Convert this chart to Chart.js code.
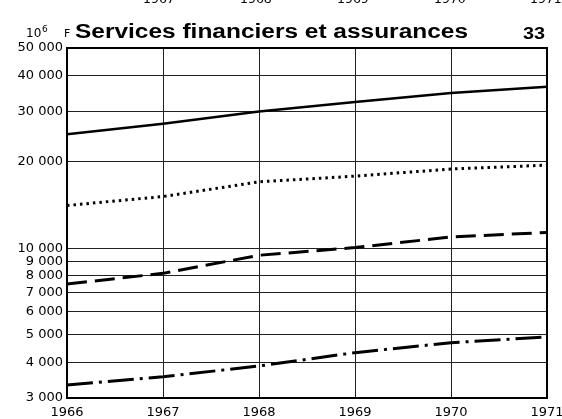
<!DOCTYPE html>
<html>
<head>
<meta charset="utf-8">
<script src="https://cdn.jsdelivr.net/npm/chart.js@4.4.0/dist/chart.umd.min.js"></script>
<style>
  html, body { margin: 0; padding: 0; background: #fff; }
  #wrap { position: relative; width: 562px; height: 419px; }
</style>
</head>
<body>
<div id="wrap"><canvas id="c" width="562" height="419"></canvas></div>
<script>
// ---- data ----
const years = [1966, 1967, 1968, 1969, 1970, 1971];
const seriesSolid   = [25000, 27200, 30000, 32400, 34800, 36600];
const seriesDotted  = [14100, 15150, 17050, 17850, 18900, 19500];
const seriesDashed  = [7500, 8170, 9450, 10050, 10950, 11350];
const seriesDashDot = [3330, 3560, 3880, 4320, 4680, 4900];
const yTickValues = [3000, 4000, 5000, 6000, 7000, 8000, 9000, 10000, 20000, 30000, 40000, 50000];
const yTickLabels = ['3 000', '4 000', '5 000', '6 000', '7 000', '8 000', '9 000', '10 000', '20 000', '30 000', '40 000', '50 000'];
const xTickLabels = ['1966', '1967', '1968', '1969', '1970', '1971'];
const titleText = 'Services financiers et assurances';
const unitText = ['10', '6', 'F'];
const pageNumber = '33';

function pts(vals) { return years.map((y, i) => ({ x: y, y: vals[i] })); }

const tickFont = { family: 'DejaVu Sans', size: 13 };

const decorPlugin = {
  id: 'decor',
  beforeDatasetsDraw(chart) {
    const { ctx, chartArea: a } = chart;
    ctx.save();
    ctx.strokeStyle = '#000';
    ctx.lineWidth = 2;
    ctx.strokeRect(a.left, a.top, a.right - a.left, a.bottom - a.top);
    ctx.restore();
  },
  afterDraw(chart) {
    const ctx = chart.ctx;
    ctx.save();
    ctx.fillStyle = '#000';
    ctx.textBaseline = 'alphabetic';
    ctx.textAlign = 'left';
    // cut-off labels of previous chart at top edge
    ctx.font = '12.5px "DejaVu Sans"';
    const prevX = [143, 240, 337, 434, 530];
    ['1967', '1968', '1969', '1970', '1971'].forEach((t, i) => ctx.fillText(t, prevX[i], 3));
    // unit
    ctx.font = '12px "DejaVu Sans"';
    ctx.fillText(unitText[0], 26, 37);
    ctx.font = '9px "DejaVu Sans"';
    ctx.fillText(unitText[1], 42, 32);
    ctx.font = '11px "DejaVu Sans"';
    ctx.fillText(unitText[2], 64, 37);
    // title, stretched to target width
    function fitText(text, font, x, y, w) {
      ctx.font = font;
      const m = ctx.measureText(text).width;
      ctx.save();
      ctx.translate(x, y);
      ctx.scale(w / m, 1);
      ctx.fillText(text, 0, 0);
      ctx.restore();
    }
    fitText(titleText, 'bold 20px "Liberation Sans"', 75, 38, 393);
    fitText(pageNumber, 'bold 16px "Liberation Sans"', 523, 39, 22);
    ctx.restore();
  }
};

new Chart(document.getElementById('c'), {
  type: 'line',
  data: {
    datasets: [
      { data: pts(seriesSolid), borderColor: '#000', borderWidth: 2.5, pointRadius: 0, tension: 0 },
      { data: pts(seriesDotted), borderColor: '#000', borderWidth: 3, borderDash: [2.5, 4], pointRadius: 0, tension: 0 },
      { data: pts(seriesDashed), borderColor: '#000', borderWidth: 3, borderDash: [20, 8], pointRadius: 0, tension: 0 },
      { data: pts(seriesDashDot), borderColor: '#000', borderWidth: 3, borderDash: [26, 6, 3, 6], pointRadius: 0, tension: 0 }
    ]
  },
  options: {
    responsive: false,
    animation: false,
    layout: { padding: { top: 48, right: 15, bottom: 0, left: 0 } },
    plugins: { legend: { display: false }, tooltip: { enabled: false }, title: { display: false } },
    scales: {
      x: {
        type: 'linear', min: 1966, max: 1971,
        afterBuildTicks: (s) => { s.ticks = years.map(v => ({ value: v })); },
        afterFit: (s) => { s.height = 21; s.paddingRight = 0; s.paddingLeft = 0; },
        ticks: {
          color: '#000', font: tickFont, padding: 7, maxRotation: 0, autoSkip: false,
          callback: (v) => { const i = years.indexOf(v); return i >= 0 ? xTickLabels[i] : ''; }
        },
        grid: { color: '#222', lineWidth: 1, drawTicks: false },
        border: { display: true, color: '#000', width: 2 }
      },
      y: {
        type: 'logarithmic', min: 3000, max: 50000,
        afterBuildTicks: (s) => { s.ticks = yTickValues.map(v => ({ value: v })); },
        afterFit: (s) => { s.width = 67; s.paddingTop = 0; s.paddingBottom = 0; },
        ticks: {
          color: '#000', font: tickFont, padding: 4, autoSkip: false,
          callback: (v) => { const i = yTickValues.indexOf(v); return i >= 0 ? yTickLabels[i] : ''; }
        },
        grid: { color: '#222', lineWidth: 1, drawTicks: false },
        border: { display: true, color: '#000', width: 2 }
      }
    }
  },
  plugins: [decorPlugin]
});
</script>
</body>
</html>
